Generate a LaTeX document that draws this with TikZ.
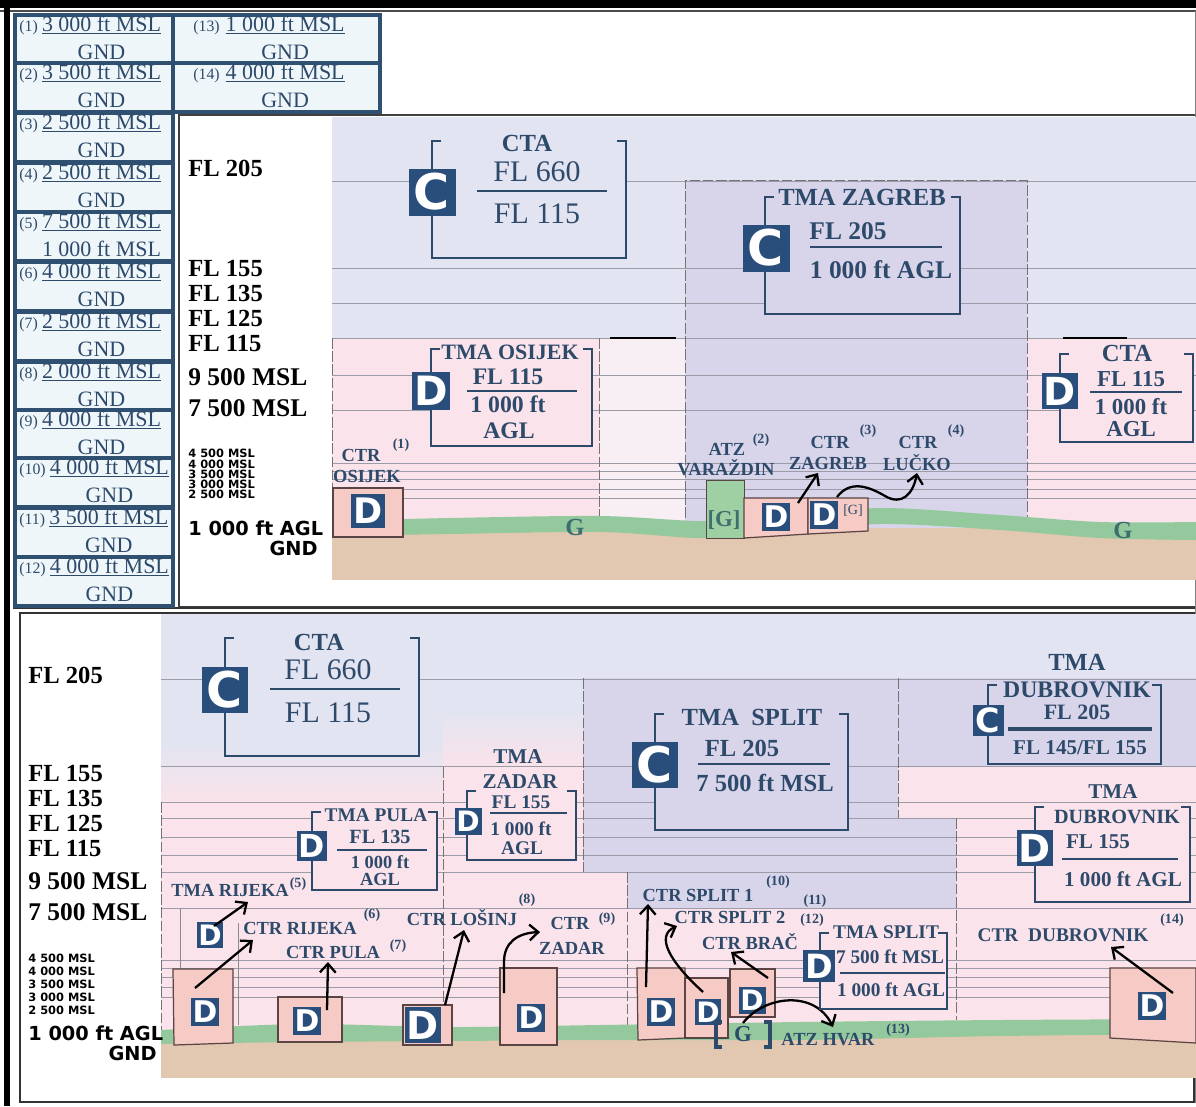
\documentclass[tikz,border=0pt]{standalone}
\usepackage{fontspec}
\setmainfont{Liberation Serif}
\setsansfont{DejaVu Sans}
\usetikzlibrary{positioning,arrows.meta,calc}
\definecolor{legbord}{HTML}{2F5070}
\definecolor{legfill}{HTML}{EEF6FA}
\definecolor{ink}{HTML}{2E4A6B}
\definecolor{lav}{HTML}{E3E4F1}
\definecolor{lavdark}{HTML}{D8D5EA}
\definecolor{pinkzone}{HTML}{FAE3EA}
\definecolor{palezone}{HTML}{F7EFF3}
\definecolor{grass}{HTML}{93C99C}
\definecolor{soil}{HTML}{E2C8B0}
\definecolor{ctrfill}{HTML}{F6CBC6}
\definecolor{ctredge}{HTML}{5A4444}
\definecolor{badgeblue}{HTML}{2A4E7C}
\definecolor{gridgrey}{HTML}{9C9CA8}
\definecolor{gtext}{HTML}{3E6E70}
\definecolor{atzgreen}{HTML}{9FD0A3}
\newcommand{\fsz}[1]{\fontsize{#1}{#1}\selectfont}

\begin{document}
\begin{tikzpicture}[x=0.02cm, y=-0.02cm,
  legbox/.style={draw=legbord, line width=2pt, fill=legfill},
  legnum/.style={text=ink, font=\fsz{9}, inner sep=0pt},
  legval/.style={text=ink, font=\fsz{12.5}, inner sep=0pt},
  lvl/.style={font=\bfseries\fsz{14}, anchor=west, inner sep=0pt},
  alt/.style={font=\sffamily\bfseries\fsz{6.5}, anchor=west, inner sep=0pt},
  grid/.style={draw=gridgrey, line width=0.5pt},
  bnd/.style={draw=black!55, dash pattern=on 6pt off 1.5pt, line width=0.5pt},
  thinln/.style={draw=black!45, line width=0.5pt},
  brk/.style={draw=ink, line width=1.6pt},
  sep/.style={draw=ink, line width=1.4pt},
  badge/.style 2 args={fill=badgeblue, text=white, inner sep=0pt,
    minimum size=#1*0.02cm, font=\sffamily\bfseries\fsz{#2}},
  lbl/.style={text=ink, font=\bfseries\fsz{#1}, inner sep=0pt},
  lblr/.style={text=ink, font=\fsz{#1}, inner sep=0pt},
  note/.style={text=ink, font=\bfseries\fsz{8}, inner sep=0pt},
  gl/.style={text=gtext, font=\bfseries\fsz{#1}, inner sep=0pt},
  gl/.default=14,
  ctrbox/.style={draw=ctredge, fill=ctrfill, line width=0.7pt},
  arr/.style={-{Straight Barb[length=5pt,width=9pt]}, line width=1.3pt}]

\useasboundingbox (0,0) rectangle (1196,1106);
\fill[white] (0,0) rectangle (1196,1106);

% --- Frames ---
\draw[black!75, line width=0.8pt, fill=white] (179,115) rectangle (1196,607);
\draw[black!80, line width=1pt, fill=white] (20,613) rectangle (1194,1102);
\draw[line width=4pt] (0,4) -- (1196,4);
\draw[black!70, line width=0.8pt] (0,11) -- (1196,11);
\draw[line width=3.5pt] (7,0) -- (7,1106);
\draw[black!80, line width=0.8pt] (13,608) -- (1196,608);
\draw[black!50] (1195,11) -- (1195,1103);

% --- Legend ---
\foreach \n/\yy/\val/\low in {1/15/3 000 ft MSL/GND, 2/63/3 500 ft MSL/GND,
    3/113/2 500 ft MSL/GND, 4/163/2 500 ft MSL/GND,
    5/212/7 500 ft MSL/1 000 ft MSL, 6/262/4 000 ft MSL/GND,
    7/312/2 500 ft MSL/GND, 8/362/2 000 ft MSL/GND,
    9/410/4 000 ft MSL/GND, 10/458/4 000 ft MSL/GND,
    11/508/3 500 ft MSL/GND, 12/557/4 000 ft MSL/GND} {
  \draw[legbox] (15,\yy) rectangle +(158,49);
  \node[legnum, anchor=base west] (n\n) at (19,\yy+16) {(\n)};
  \node[legval, base right=2pt of n\n] (v\n) {\underline{\val}};
  \node[legval, anchor=base] (g\n) at ($(v\n.base)+(0,28)$) {\low};
}
\foreach \n/\yy/\val in {13/15/1 000 ft MSL, 14/63/4 000 ft MSL} {
  \draw[legbox] (173,\yy) rectangle +(207,49);
  \node[legnum, anchor=base west] (n\n) at (193,\yy+16) {(\n)};
  \node[legval, base right=3pt of n\n] (v\n) {\underline{\val}};
  \node[legval, anchor=base] (g\n) at ($(v\n.base)+(0,28)$) {GND};
}

% --- Upper section: zones ---
\fill[lav] (332,117) rectangle (1196,540);
\fill[pinkzone] (332,338) rectangle (599,540);
\fill[palezone] (599,338) rectangle (685,540);
\fill[lavdark] (685,180) rectangle (1027,540);
\fill[pinkzone] (1027,338) rectangle (1196,540);
\foreach \yy in {181,268,303,338,375,410,463,471,479,489,498}
  \draw[grid] (332,\yy) -- (1196,\yy);
\draw[bnd] (332,338) -- (332,530);
\draw[bnd] (599,338) -- (599,518);
\draw[bnd] (685,518) -- (685,180) -- (1027,180) -- (1027,520);
\draw[line width=1.2pt] (610,338) -- (676,338);
\draw[line width=1.2pt] (1063,338) -- (1127,338);
\fill[soil] (332,528) rectangle (1196,580);
\fill[grass] plot[smooth] coordinates {(332,521) (450,518) (600,516)
    (700,521) (780,518) (880,508) (1000,515) (1100,522) (1196,522)}
  -- plot[smooth] coordinates {(1196,540) (1100,538) (1000,530)
    (880,524) (780,534) (700,538) (600,532) (450,534) (332,536)} -- cycle;

% --- Upper section: levels ---
\node[lvl] (u205) at (188,168) {FL 205};
\node[lvl] (u155) at (188,268) {FL 155};
\node[lvl] (u135) at (188,293) {FL 135};
\node[lvl] (u125) at (188,318) {FL 125};
\node[lvl] (u115) at (188,343) {FL 115};
\node[lvl, font=\bfseries\fsz{14.5}] (u95) at (188,377) {9 500 MSL};
\node[lvl, font=\bfseries\fsz{14.5}] (u75) at (188,408) {7 500 MSL};
\foreach \t/\yy in {4 500/453, 4 000/464, 3 500/474, 3 000/484, 2 500/494}
  \node[alt] at (188,\yy) {\t{} MSL};
\node[alt, font=\sffamily\bfseries\fsz{11}] (uagl) at (188,528) {1 000 ft AGL};
\node[alt, font=\sffamily\bfseries\fsz{11}, anchor=east] (ugnd) at (318,548) {GND};

% --- Upper section: CTA ---
\fill[lav] (432,141) rectangle (626,258);
\draw[brk] (441,141) -- (432,141) -- (432,258) -- (626,258) -- (626,141) -- (617,141);
\node[badge={47}{28}] (cCtaN) at (432,192) {C};
\node[lbl=14] (ctaN) at (527,143) {CTA};
\node[lblr=17] (ctaNtop) at (537,172) {FL 660};
\draw[sep] (477,191) -- (607,191);
\node[lblr=17] (ctaNbot) at (537,214) {FL 115};

% --- TMA Osijek / CTR Osijek ---
\fill[pinkzone] (431,349) rectangle (592,446);
\draw[brk] (440,349) -- (431,349) -- (431,446) -- (592,446) -- (592,349) -- (583,349);
\node[lbl=12.5] (tmaOs) at (510,352) {TMA OSIJEK};
\node[badge={38}{23}] (dOs) at (431,391) {D};
\node[lbl=13.5] at (508,377) {FL 115};
\draw[sep] (467,391) -- (577,391);
\node[lbl=13.5] at (508,404) {1 000 ft};
\node[lbl=13.5] at (509,431) {AGL};
\node[lbl=10.5] (ctrOs) at (361,455) {CTR};
\node[note] at (401,445) {(1)};
\node[lbl=10.5] (osLbl) at (367,476) {OSIJEK};
\draw[ctrbox] (333,488) rectangle (403,537);
\node[badge={34}{20}] (dCtrOs) at (368,511) {D};
\node[gl] (gW) at (575,527) {G};
\node[gl] (gE) at (1123,530) {G};

% --- TMA Zagreb ---
\fill[lavdark] (765,197) rectangle (960,314);
\draw[brk] (774,197) -- (765,197) -- (765,314) -- (960,314) -- (960,197) -- (951,197);
\node[lbl=14] (tmaZg) at (862,197) {TMA ZAGREB};
\node[badge={47}{28}] (cZg) at (766,248) {C};
\node[lbl=14.5] at (848,231) {FL 205};
\draw[sep] (810,247) -- (942,247);
\node[lbl=14.5] at (881,270) {1 000 ft AGL};

% --- CTA east ---
\fill[pinkzone] (1060,354) rectangle (1193,442);
\draw[brk] (1069,354) -- (1060,354) -- (1060,442) -- (1193,442) -- (1193,354) -- (1184,354);
\node[lbl=14] (ctaE) at (1127,353) {CTA};
\node[badge={36}{22}] (dCtaE) at (1060,391) {D};
\node[lbl=13] at (1131,379) {FL 115};
\draw[sep] (1090,392) -- (1182,392);
\node[lbl=13] at (1131,407) {1 000 ft};
\node[lbl=13] at (1131,429) {AGL};

% --- Varazdin, Zagreb, Lucko ---
\draw[ctredge, fill=atzgreen] (706,480) rectangle (744,538);
\node[gl=13] (gVa) at (724,520) {[G]};
\draw[ctrbox] (744,498) -- (808,498) -- (808,534) -- (744,538) -- cycle;
\node[badge={28}{17}] (dZg) at (776,517) {D};
\draw[ctrbox] (808,498) -- (868,498) -- (868,531) -- (808,534) -- cycle;
\node[badge={28}{17}] (dLu) at (824,515) {D};
\node[lblr=8] (gLu) at (853,511) {[G]};
\node[lbl=10.5] (atzVa) at (727,449) {ATZ};
\node[note] at (761,440) {(2)};
\node[lbl=10.5] (vaLbl) at (726,468) {VARAŽDIN};
\node[lbl=10.5] (ctrZg) at (830,442) {CTR};
\node[note] at (868,431) {(3)};
\node[lbl=10.5] (zgLbl) at (828,463) {ZAGREB};
\node[lbl=10.5] (ctrLu) at (918,442) {CTR};
\node[note] at (956,431) {(4)};
\node[lbl=10.5] (luLbl) at (917,463) {LUČKO};
\coordinate (zgFrom) at (798,503);
\coordinate (zgTo) at (818,473);
\draw[arr] (zgFrom) -- (zgTo);
\coordinate (luFrom) at (837,497);
\coordinate (luTo) at (917,473);
\draw[arr] (luFrom) .. controls (850,480) and (868,486) .. (885,496)
  .. controls (902,506) and (913,494) .. (luTo);

% --- Lower section: zones ---
\fill[lav] (161,614) rectangle (1196,1040);
\fill[pinkzone] (161,802) -- (443,802) -- (443,767) -- (583,767) -- (583,872)
  -- (627,872) -- (627,908) -- (956,908) -- (956,818) -- (898,818) -- (898,766)
  -- (1196,766) -- (1196,1040) -- (161,1040) -- cycle;
\shade[top color=lav, bottom color=pinkzone] (161,745) rectangle (443,802);
\shade[top color=lav, bottom color=pinkzone] (443,712) rectangle (583,767);
\fill[lavdark] (583,678) -- (898,678) -- (898,818) -- (956,818) -- (956,908)
  -- (627,908) -- (627,872) -- (583,872) -- cycle;
\fill[lavdark] (898,678) rectangle (1196,766);
\foreach \yy in {679,766,802,818,837,855,872,908,960,968,977,987,997}
  \draw[grid] (161,\yy) -- (1196,\yy);
\draw[bnd] (161,802) -- (161,1030);
\draw[bnd] (443,767) -- (443,1027);
\draw[bnd] (583,678) -- (583,872);
\draw[bnd] (627,872) -- (627,1025);
\draw[bnd] (898,678) -- (898,818);
\draw[bnd] (956,818) -- (956,1020);
\draw[thinln] (180,908) -- (180,1027);
\draw[thinln] (238,923) -- (238,1025);
\fill[soil] (161,1032) rectangle (1196,1078);
\fill[grass] plot[smooth] coordinates {(161,1030) (300,1024) (450,1027)
    (600,1025) (800,1022) (1000,1020) (1196,1019)}
  -- plot[smooth] coordinates {(1196,1034) (1000,1036) (800,1040)
    (600,1040) (450,1041) (300,1042) (161,1044)} -- cycle;

% --- Lower section: levels ---
\node[lvl] (l205) at (28,675) {FL 205};
\node[lvl] (l155) at (28,773) {FL 155};
\node[lvl] (l135) at (28,798) {FL 135};
\node[lvl] (l125) at (28,823) {FL 125};
\node[lvl] (l115) at (28,848) {FL 115};
\node[lvl, font=\bfseries\fsz{14.5}] (l95) at (28,881) {9 500 MSL};
\node[lvl, font=\bfseries\fsz{14.5}] (l75) at (28,912) {7 500 MSL};
\foreach \t/\yy in {4 500/958, 4 000/971, 3 500/984, 3 000/997, 2 500/1010}
  \node[alt] at (28,\yy) {\t{} MSL};
\node[alt, font=\sffamily\bfseries\fsz{11}] (lagl) at (28,1033) {1 000 ft AGL};
\node[alt, font=\sffamily\bfseries\fsz{11}, anchor=east] (lgnd) at (157,1053) {GND};

% --- Lower section: CTA ---
\fill[lav] (225,638) rectangle (419,756);
\draw[brk] (234,638) -- (225,638) -- (225,756) -- (419,756) -- (419,638) -- (410,638);
\node[badge={46}{28}] (cCtaS) at (225,690) {C};
\node[lbl=14] (ctaS) at (319,642) {CTA};
\node[lblr=17] at (328,670) {FL 660};
\draw[sep] (270,689) -- (400,689);
\node[lblr=17] at (328,713) {FL 115};

% --- TMA Pula, Rijeka ---
\fill[pinkzone] (312,812) rectangle (437,890);
\draw[brk] (321,812) -- (312,812) -- (312,890) -- (437,890) -- (437,812) -- (428,812);
\node[lbl=11] (tmaPu) at (376,815) {TMA PULA};
\node[badge={30}{18}] (dTPu) at (312,846) {D};
\node[lbl=11.5] at (380,837) {FL 135};
\draw[sep] (337,850) -- (427,850);
\node[lbl=10.5] at (380,862) {1 000 ft};
\node[lbl=10.5] at (380,879) {AGL};
\node[lbl=10.5] (tmaRi) at (230,890) {TMA RIJEKA};
\node[note] at (298,884) {(5)};
\node[badge={26}{16}] (dTRi) at (210,935) {D};
\coordinate (riTFrom) at (214,926);
\coordinate (riTTo) at (248,902);
\draw[arr] (riTFrom) -- (riTTo);
\draw[ctrbox] (173,969) -- (233,969) -- (233,1043) -- (174,1045) -- cycle;
\node[badge={28}{17}] (dRi) at (205,1012) {D};
\coordinate (riFrom) at (195,988);
\coordinate (riTo) at (253,940);
\draw[arr] (riFrom) -- (riTo);
\node[lbl=10.5] (ctrRi) at (300,928) {CTR RIJEKA};
\node[note] at (372,915) {(6)};
\node[lbl=10.5] (ctrPu) at (333,952) {CTR PULA};
\node[note] at (398,946) {(7)};
\draw[ctrbox] (278,997) rectangle (342,1042);
\node[badge={28}{17}] (dPu) at (307,1021) {D};
\coordinate (puFrom) at (327,1010);
\coordinate (puTo) at (328,962);
\draw[arr] (puFrom) -- (puTo);

% --- Losinj, Zadar ---
\draw[ctrbox] (403,1005) rectangle (452,1045);
\node[badge={36}{22}] (dLo) at (423,1025) {D};
\coordinate (loFrom) at (445,1005);
\coordinate (loTo) at (464,930);
\draw[arr] (loFrom) -- (loTo);
\node[lbl=10.5] (ctrLo) at (462,918) {CTR LOŠINJ};
\node[note] at (527,900) {(8)};
\node[lbl=10.5] (ctrZd) at (570,923) {CTR};
\node[note] at (607,919) {(9)};
\node[lbl=10.5] (zdLbl) at (572,948) {ZADAR};
\draw[ctrbox] (500,968) rectangle (557,1045);
\node[badge={28}{17}] (dZd) at (531,1018) {D};
\coordinate (zdFrom) at (504,993);
\coordinate (zdTo) at (540,932);
\draw[arr] (zdFrom) -- (504,962) .. controls (504,942) and (518,933) .. (zdTo);
\node[lbl=12] (tmaZdT) at (518,757) {TMA};
\fill[pinkzone] (467,791) rectangle (576,860);
\draw[brk] (476,791) -- (467,791) -- (467,860) -- (576,860) -- (576,791) -- (567,791);
\node[lbl=12] (tmaZd) at (520,782) {ZADAR};
\node[badge={27}{16}] (dTZd) at (468,821) {D};
\node[lbl=11] at (521,802) {FL 155};
\draw[sep] (490,813) -- (567,813);
\node[lbl=11] at (521,829) {1 000 ft};
\node[lbl=11] at (522,848) {AGL};

% --- TMA Split (C) ---
\fill[lavdark] (655,714) rectangle (848,830);
\draw[brk] (664,714) -- (655,714) -- (655,830) -- (848,830) -- (848,714) -- (839,714);
\node[lbl=14] (tmaSp) at (752,717) {TMA\ \ SPLIT};
\node[badge={46}{28}] (cSp) at (655,765) {C};
\node[lbl=14] at (742,748) {FL 205};
\draw[sep] (698,764) -- (830,764);
\node[lbl=14] at (765,783) {7 500 ft MSL};

% --- Split 1, Split 2, Brac, Hvar ---
\node[lbl=10.5] (sp1Lbl) at (698,895) {CTR SPLIT 1};
\node[note] at (778,882) {(10)};
\node[lbl=10.5] (sp2Lbl) at (730,917) {CTR SPLIT 2};
\node[note] at (815,901) {(11)};
\node[note] at (812,920) {(12)};
\node[lbl=10.5] (brLbl) at (750,942) {CTR BRAČ};
\draw[ctrbox] (637,968) -- (685,968) -- (685,1038) -- (638,1040) -- cycle;
\node[badge={28}{17}] (dSp1) at (661,1012) {D};
\draw[ctrbox] (685,978) rectangle (728,1038);
\node[badge={26}{16}] (dSp2) at (708,1012) {D};
\draw[ctrbox] (730,969) rectangle (775,1017);
\node[badge={27}{16}] (dBr) at (752,1000) {D};
\coordinate (sp1From) at (646,987);
\coordinate (sp1To) at (648,904);
\draw[arr] (sp1From) -- (sp1To);
\coordinate (sp2From) at (703,992);
\coordinate (sp2To) at (677,926);
\draw[arr] (sp2From) .. controls (670,962) and (655,936) .. (sp2To);
\coordinate (brFrom) at (768,978);
\coordinate (brTo) at (731,952);
\draw[arr] (brFrom) -- (brTo);
\draw[ink, line width=2.5pt] (722,1022) -- (716,1022) -- (716,1047) -- (722,1047);
\draw[ink, line width=2.5pt] (764,1022) -- (770,1022) -- (770,1047) -- (764,1047);
\node[lbl=13] (gHv) at (743,1034) {G};
\node[lbl=10.5] (hvLbl) at (828,1040) {ATZ HVAR};
\node[note] at (898,1030) {(13)};
\coordinate (hvFrom) at (743,1023);
\coordinate (hvTo) at (833,1027);
\draw[arr] (hvFrom) .. controls (765,995) and (815,990) .. (hvTo);

% --- TMA Split (D) ---
\fill[pinkzone] (820,933) rectangle (947,1009);
\draw[brk] (829,933) -- (820,933) -- (820,1009) -- (947,1009) -- (947,933) -- (938,933);
\node[lbl=11] (tmaSpD) at (886,932) {TMA SPLIT};
\node[badge={32}{19}] (dTSp) at (819,966) {D};
\node[lbl=11] at (890,957) {7 500 ft MSL};
\draw[sep] (840,973) -- (945,973);
\node[lbl=11] at (891,990) {1 000 ft AGL};

% --- TMA Dubrovnik (C and D) ---
\node[lbl=14] (tmaDuT) at (1077,662) {TMA};
\fill[lavdark] (988,685) rectangle (1161,764);
\draw[brk] (997,685) -- (988,685) -- (988,764) -- (1161,764) -- (1161,685) -- (1152,685);
\node[lbl=13.5] (tmaDu) at (1077,690) {DUBROVNIK};
\node[badge={31}{19}] (cDu) at (988,720) {C};
\node[lbl=12.5] at (1077,712) {FL 205};
\draw[sep, line width=2pt] (1008,729) -- (1152,729);
\node[lbl=12] at (1080,748) {FL 145/FL 155};
\node[lbl=12] (tmaDuDT) at (1113,792) {TMA};
\fill[pinkzone] (1035,807) rectangle (1190,902);
\draw[brk] (1044,807) -- (1035,807) -- (1035,902) -- (1190,902) -- (1190,807) -- (1181,807);
\node[lbl=11.5] (tmaDuD) at (1117,817) {DUBROVNIK};
\node[badge={36}{22}] (dTDu) at (1035,848) {D};
\node[lbl=12] at (1098,842) {FL 155};
\draw[sep] (1062,859) -- (1178,859);
\node[lbl=12] at (1123,879) {1 000 ft AGL};

% --- CTR Dubrovnik ---
\node[lbl=11] (duLbl) at (1063,935) {CTR\ \ DUBROVNIK};
\node[note] at (1172,920) {(14)};
\draw[ctrbox] (1110,968) -- (1196,968) -- (1196,1043) -- (1110,1038) -- cycle;
\node[badge={28}{17}] (dDu) at (1152,1006) {D};
\coordinate (duFrom) at (1173,993);
\coordinate (duTo) at (1111,947);
\draw[arr] (duFrom) -- (duTo);

\end{tikzpicture}
\end{document}
